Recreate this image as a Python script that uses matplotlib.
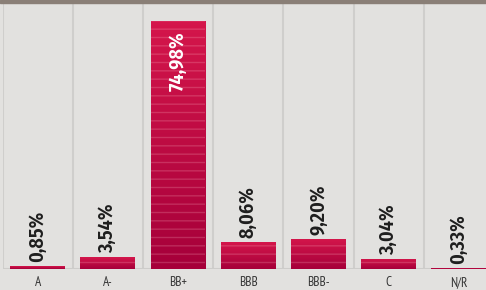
import numpy as np
import matplotlib.pyplot as plt
import matplotlib.colors as mcolors

categories = ["A", "A-", "BB+", "BBB", "BBB-", "C", "N/R"]
values = [0.85, 3.54, 74.98, 8.06, 9.20, 3.04, 0.33]
labels = ["0,85%", "3,54%", "74,98%", "8,06%", "9,20%", "3,04%", "0,33%"]

bg = "#e2e1df"
font = ["Fira Sans Condensed", "DejaVu Sans"]
tick_font = ["PT Sans Narrow", "DejaVu Sans"]

fig = plt.figure(figsize=(4.86, 2.9), dpi=100, facecolor=bg)
ax = fig.add_axes([2.5/486, 21/290, (486-2.5)/486, (269-3)/290])
ax.set_facecolor(bg)

x = np.arange(len(categories))
w = 0.78
bars = ax.bar(x, values, width=w, color="#c20d40", linewidth=0, zorder=2)

# vertical gradient + faint stripes on each bar
grad = mcolors.LinearSegmentedColormap.from_list("g", ["#a6003a", "#d4164b"])
g = np.linspace(0, 1, 64).reshape(-1, 1)
for b, v in zip(bars, values):
    im = ax.imshow(g, cmap=grad, origin="lower", aspect="auto",
                   extent=(b.get_x(), b.get_x() + w, 0, v), zorder=2.1)
    im.set_clip_path(b)
    ax.bar(b.get_x() + w/2, v, width=w, color="none", edgecolor=(1, 0.75, 0.8, 0.22),
           hatch="--", linewidth=0, zorder=2.2)

for xi, v, lab in zip(x, values, labels):
    if v > 50:
        ax.text(xi, v - 3.0, lab, rotation=90, ha="center", va="top", color="white",
                fontsize=14.5, fontweight="semibold", family=font, zorder=3)
    else:
        ax.text(xi, v + 1.2, lab, rotation=90, ha="center", va="bottom", color="#1e1e1e",
                fontsize=14.5, fontweight="semibold", family=font, zorder=3)

ax.set_xlim(-0.5, (486 - 2.5) / 70.2 - 0.5)
ax.set_ylim(0, 266 / 3.307)
for xb in np.arange(-0.5, 7, 1):
    ax.axvline(xb, color="#cfcecc", lw=1.5, zorder=1)
ax.axhline(0, color="#cdccca", lw=1.5, zorder=1)

ax.set_xticks(x)
ax.set_xticklabels(categories, family=tick_font, fontsize=9.5, color="#333333")
ax.tick_params(axis="x", length=0, pad=5)
ax.set_yticks([])
for s in ax.spines.values():
    s.set_visible(False)

fig.patches.append(plt.Rectangle((0, 1 - 3/290), 1, 3/290, transform=fig.transFigure,
                                 color="#8a7f77", zorder=5))

fig.savefig("out.png", dpi=100, facecolor=bg)
